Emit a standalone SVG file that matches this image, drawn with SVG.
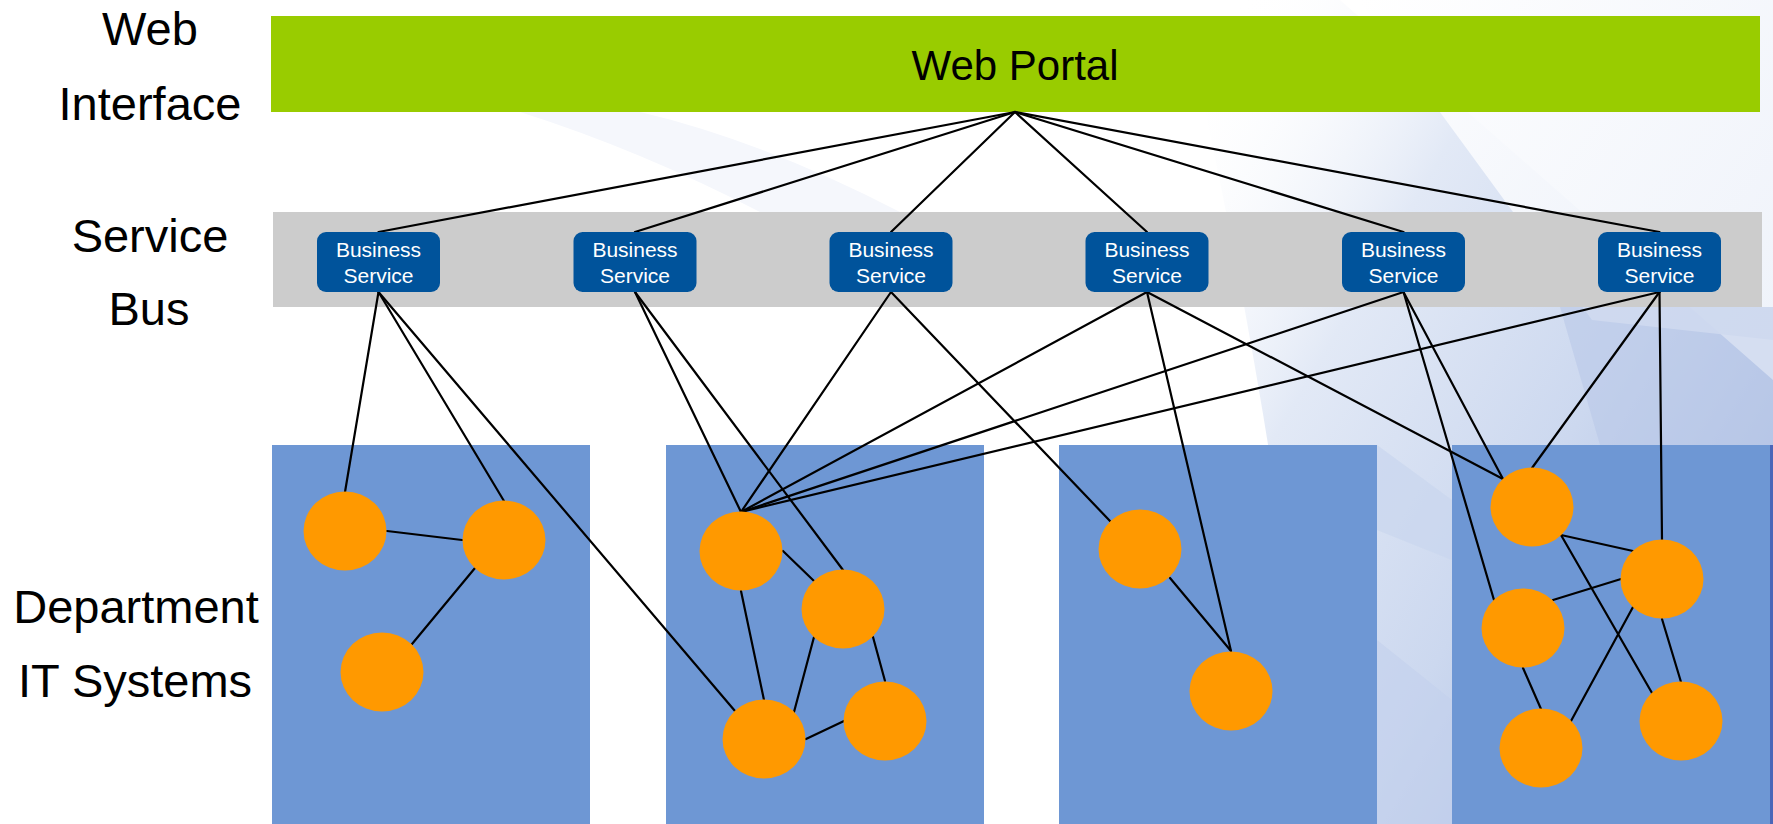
<svg xmlns="http://www.w3.org/2000/svg" width="1773" height="824" viewBox="0 0 1773 824">
<style>
.lbl{font-family:"Liberation Sans",Arial,sans-serif;font-size:47px;fill:#000;text-anchor:middle}
.portal{font-family:"Liberation Sans",Arial,sans-serif;font-size:42px;fill:#000;text-anchor:middle}
.svc rect{fill:#00539B}
.svc text{font-family:"Liberation Sans",Arial,sans-serif;font-size:21px;fill:#fff;text-anchor:middle}
.dept{fill:#6E97D4}
.sys{fill:#FF9900}
#connectors line{stroke:#000;stroke-width:2.2;stroke-linecap:round}
</style>
<defs>
<linearGradient id="sweep" x1="1150" y1="150" x2="1773" y2="520" gradientUnits="userSpaceOnUse">
<stop offset="0" stop-color="#ffffff" stop-opacity="0"/>
<stop offset="0.35" stop-color="#e2e9f6"/>
<stop offset="0.7" stop-color="#ccd8ef"/>
<stop offset="1" stop-color="#aebfe3"/>
</linearGradient>
<linearGradient id="wedge" x1="1360" y1="0" x2="1773" y2="300" gradientUnits="userSpaceOnUse">
<stop offset="0" stop-color="#ffffff" stop-opacity="0.95"/>
<stop offset="1" stop-color="#eef2fa" stop-opacity="0.9"/>
</linearGradient>
</defs>
<g id="background">
<rect width="1773" height="824" fill="#ffffff"/>
<path d="M1180,0 L1340,0 L1773,380 L1773,824 L1320,824 Q1270,380 1180,0 Z" fill="url(#sweep)"/>
<path d="M1358,0 L1773,0 L1773,340 L1592,320 Z" fill="url(#wedge)"/>
<path d="M1377,445 L1452,500 L1452,560 L1377,530 Z" fill="#c9d6ee" opacity="0.7"/>
<path d="M1377,640 L1452,700 L1452,824 L1377,824 Z" fill="#c3d1ec" opacity="0.6"/>
<path d="M1560,307 L1773,307 L1773,445 L1600,445 Z" fill="#b9c8e7" opacity="0.6"/>
<path d="M520,112 Q640,150 760,212 L900,212 Q760,140 640,112 Z" fill="#f5f7fc"/>
<rect x="1770" y="445" width="3" height="379" fill="#4a66b8"/>
</g>
<g id="layer-labels">
<text class="lbl" x="150" y="45">Web</text>
<text class="lbl" x="150" y="120">Interface</text>
<text class="lbl" x="150" y="252">Service</text>
<text class="lbl" x="149" y="325">Bus</text>
<text class="lbl" x="136" y="623">Department</text>
<text class="lbl" x="135" y="697">IT Systems</text>
</g>
<g id="web-portal">
<rect x="271" y="16" width="1489" height="96" fill="#99CC00"/>
<text class="portal" x="1015" y="80">Web Portal</text>
</g>
<g id="service-bus">
<rect x="273" y="212" width="1489" height="95" fill="#CCCCCC"/>
</g>
<g id="departments">
<rect id="dept-1" class="dept" x="272" y="445" width="318" height="379"/>
<rect id="dept-2" class="dept" x="666" y="445" width="318" height="379"/>
<rect id="dept-3" class="dept" x="1059" y="445" width="318" height="379"/>
<rect id="dept-4" class="dept" x="1452" y="445" width="318" height="379"/>
</g>
<g id="connectors">
<line x1="1015" y1="112" x2="378.5" y2="232"/>
<line x1="1015" y1="112" x2="635" y2="232"/>
<line x1="1015" y1="112" x2="891" y2="232"/>
<line x1="1015" y1="112" x2="1147" y2="232"/>
<line x1="1015" y1="112" x2="1403.5" y2="232"/>
<line x1="1015" y1="112" x2="1659.5" y2="232"/>
<line x1="378.5" y1="292" x2="345" y2="492"/>
<line x1="378.5" y1="292" x2="504" y2="501"/>
<line x1="378.5" y1="292" x2="735" y2="711"/>
<line x1="635" y1="292" x2="741" y2="512"/>
<line x1="635" y1="292" x2="843" y2="570"/>
<line x1="891" y1="292" x2="741" y2="512"/>
<line x1="891" y1="292" x2="1110" y2="521"/>
<line x1="1147" y1="292" x2="741" y2="512"/>
<line x1="1147" y1="292" x2="1231" y2="651"/>
<line x1="1147" y1="292" x2="1503" y2="479"/>
<line x1="1403.5" y1="292" x2="741" y2="512"/>
<line x1="1403.5" y1="292" x2="1503" y2="479"/>
<line x1="1403.5" y1="292" x2="1494" y2="600"/>
<line x1="1659.5" y1="292" x2="741" y2="512"/>
<line x1="1659.5" y1="292" x2="1532" y2="468"/>
<line x1="1659.5" y1="292" x2="1662" y2="540"/>
<line x1="387" y1="531" x2="462" y2="540"/>
<line x1="475" y1="568" x2="412" y2="644"/>
<line x1="783" y1="551" x2="814" y2="581"/>
<line x1="741" y1="591" x2="764" y2="700"/>
<line x1="814" y1="637" x2="794" y2="712"/>
<line x1="873" y1="637" x2="885" y2="681"/>
<line x1="806" y1="739" x2="844" y2="721"/>
<line x1="1170" y1="578" x2="1231" y2="651"/>
<line x1="1561" y1="535" x2="1633" y2="551"/>
<line x1="1561" y1="535" x2="1652" y2="693"/>
<line x1="1553" y1="600" x2="1621" y2="579"/>
<line x1="1523" y1="668" x2="1541" y2="709"/>
<line x1="1571" y1="721" x2="1633" y2="607"/>
<line x1="1662" y1="619" x2="1681" y2="682"/>
</g>
<g id="svc-1" class="svc"><rect x="317" y="232" width="123" height="60" rx="9"/><text x="378.5" y="257">Business</text><text x="378.5" y="283">Service</text></g>
<g id="svc-2" class="svc"><rect x="573.5" y="232" width="123" height="60" rx="9"/><text x="635" y="257">Business</text><text x="635" y="283">Service</text></g>
<g id="svc-3" class="svc"><rect x="829.5" y="232" width="123" height="60" rx="9"/><text x="891" y="257">Business</text><text x="891" y="283">Service</text></g>
<g id="svc-4" class="svc"><rect x="1085.5" y="232" width="123" height="60" rx="9"/><text x="1147" y="257">Business</text><text x="1147" y="283">Service</text></g>
<g id="svc-5" class="svc"><rect x="1342" y="232" width="123" height="60" rx="9"/><text x="1403.5" y="257">Business</text><text x="1403.5" y="283">Service</text></g>
<g id="svc-6" class="svc"><rect x="1598" y="232" width="123" height="60" rx="9"/><text x="1659.5" y="257">Business</text><text x="1659.5" y="283">Service</text></g>
<g id="systems">
<g id="d1-s1"><ellipse class="sys" cx="345" cy="531" rx="41.5" ry="39.5"/></g>
<g id="d1-s2"><ellipse class="sys" cx="504" cy="540" rx="41.5" ry="39.5"/></g>
<g id="d1-s3"><ellipse class="sys" cx="382" cy="672" rx="41.5" ry="39.5"/></g>
<g id="d2-s1"><ellipse class="sys" cx="741" cy="551" rx="41.5" ry="39.5"/></g>
<g id="d2-s2"><ellipse class="sys" cx="843" cy="609" rx="41.5" ry="39.5"/></g>
<g id="d2-s3"><ellipse class="sys" cx="764" cy="739" rx="41.5" ry="39.5"/></g>
<g id="d2-s4"><ellipse class="sys" cx="885" cy="721" rx="41.5" ry="39.5"/></g>
<g id="d3-s1"><ellipse class="sys" cx="1140" cy="549" rx="41.5" ry="39.5"/></g>
<g id="d3-s2"><ellipse class="sys" cx="1231" cy="691" rx="41.5" ry="39.5"/></g>
<g id="d4-s1"><ellipse class="sys" cx="1532" cy="507" rx="41.5" ry="39.5"/></g>
<g id="d4-s2"><ellipse class="sys" cx="1662" cy="579" rx="41.5" ry="39.5"/></g>
<g id="d4-s3"><ellipse class="sys" cx="1523" cy="628" rx="41.5" ry="39.5"/></g>
<g id="d4-s4"><ellipse class="sys" cx="1541" cy="748" rx="41.5" ry="39.5"/></g>
<g id="d4-s5"><ellipse class="sys" cx="1681" cy="721" rx="41.5" ry="39.5"/></g>
</g>
</svg>
